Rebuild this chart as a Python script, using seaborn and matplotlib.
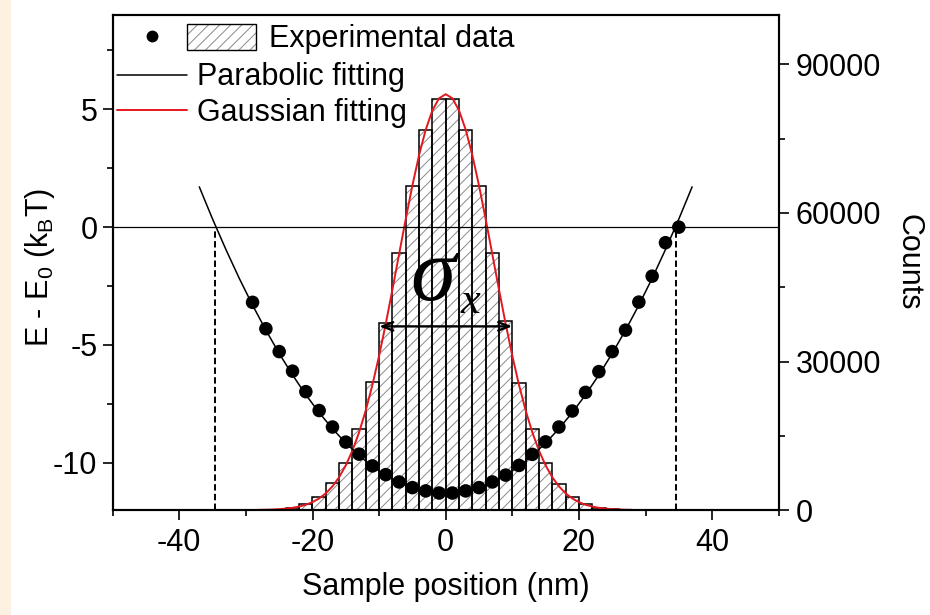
import numpy as np
import matplotlib
matplotlib.use("Agg")
from matplotlib import pyplot as plt
from matplotlib.lines import Line2D
from matplotlib.patches import Patch, Rectangle
from matplotlib.legend_handler import HandlerTuple
from matplotlib.ticker import MultipleLocator
import seaborn as sns

# histogram of positions (2 nm bins)
bin_edges = [-26, -24, -22, -20, -18, -16, -14, -12, -10, -8, -6, -4, -2, 0,
             2, 4, 6, 8, 10, 12, 14, 16, 18, 20, 22, 24, 26]
bin_centers = [-25, -23, -21, -19, -17, -15, -13, -11, -9, -7, -5, -3, -1,
               1, 3, 5, 7, 9, 11, 13, 15, 17, 19, 21, 23, 25]
counts = [100, 400, 1200, 2700, 5400, 9500, 16400, 25800, 37800, 52000, 65500, 76700, 83100,
          83100, 76700, 65500, 52000, 38200, 25600, 16400, 9500, 5300, 2700, 1300, 450, 120]

# energy from the experimental data
pos_points = [-29, -27, -25, -23, -21, -19, -17, -15, -13, -11, -9, -7, -5, -3, -1,
              1, 3, 5, 7, 9, 11, 13, 15, 17, 19, 21, 23, 25, 27, 29, 31, 33, 35]
energy_points = [-3.19, -4.31, -5.28, -6.11, -6.98, -7.78, -8.48, -9.12, -9.63, -10.13,
                 -10.50, -10.81, -11.05, -11.19, -11.28, -11.28, -11.19, -11.05, -10.81,
                 -10.52, -10.11, -9.64, -9.11, -8.48, -7.80, -7.01, -6.13, -5.28, -4.37,
                 -3.18, -2.08, -0.66, 0.0]

# parabolic fitting curve
parab_x = [-37, -35, -33, -31, -29, -27, -25, -23, -21, -19, -17, -15, -13, -11, -9, -7, -5, -3, -1,
           1, 3, 5, 7, 9, 11, 13, 15, 17, 19, 21, 23, 25, 27, 29, 31, 33, 35, 37]
parab_y = [1.71, 0.34, -0.95, -2.17, -3.31, -4.37, -5.36, -6.27, -7.11, -7.87, -8.55, -9.16,
           -9.69, -10.15, -10.53, -10.83, -11.06, -11.21, -11.29,
           -11.29, -11.21, -11.06, -10.83, -10.53, -10.15, -9.69, -9.16, -8.55, -7.87,
           -7.11, -6.27, -5.36, -4.37, -3.31, -2.17, -0.95, 0.34, 1.71]

# gaussian fitting curve (1 nm steps)
gauss_x = np.arange(-28, 29)
gauss_y = [35, 61, 103, 171, 277, 442, 691, 1058, 1589, 2340, 3377, 4780, 6628, 9015,
           12020, 15710, 20140, 25290, 31160, 37620, 44530, 51670, 58780, 65560, 71680,
           76830, 80730, 83170, 84000, 83170, 80730, 76830, 71680, 65560, 58780, 51670,
           44530, 37620, 31160, 25290, 20140, 15710, 12020, 9015, 6628, 4780, 3377, 2340,
           1589, 1058, 691, 442, 277, 171, 103, 61, 35]

crossings = [-34.6, 34.6]
sigma_span = [-10, 10]
sigma_level = -4.21

sns.set_theme(style="ticks")
plt.rcParams["font.family"] = ["Liberation Sans", "DejaVu Sans"]
plt.rcParams["mathtext.fontset"] = "custom"
plt.rcParams["mathtext.rm"] = "Liberation Sans"
plt.rcParams["mathtext.default"] = "regular"
plt.rcParams["axes.unicode_minus"] = False
for k in ["text.color", "axes.labelcolor", "xtick.color", "ytick.color", "axes.edgecolor"]:
    plt.rcParams[k] = "black"
plt.rcParams["hatch.linewidth"] = 0.7

FS = 22
hatch_gray = "#8a8a8a"

fig = plt.figure(figsize=(9.3, 6.15), dpi=100)
fig.patches.append(Rectangle((0, 0), 11 / 930, 1, transform=fig.transFigure,
                             facecolor="#fdf2e1", edgecolor="none", zorder=-5))
ax = fig.add_axes([112.7 / 930, 1 - 510 / 615, 666 / 930, 495 / 615])
ax2 = ax.twinx()

# right axis: histogram + gaussian
sns.histplot(x=bin_centers, weights=counts, bins=bin_edges, ax=ax2, color="white",
             edgecolor=hatch_gray, hatch="///", linewidth=0, alpha=1)
sns.histplot(x=bin_centers, weights=counts, bins=bin_edges, ax=ax2, fill=False,
             color="black", linewidth=1.1)
sns.lineplot(x=gauss_x, y=gauss_y, ax=ax2, color="#e3171d", linewidth=1.4)

# left axis: energy
ax.axhline(0, color="black", linewidth=0.9)
ax.vlines(crossings, -12, 0, colors="black", linewidth=1.4, linestyles=(0, (3.3, 1.7)))
sns.lineplot(x=parab_x, y=parab_y, ax=ax, color="black", linewidth=1.1, sort=False)
sns.scatterplot(x=pos_points, y=energy_points, ax=ax, color="black", s=95,
                edgecolor="none", zorder=5)

ax.annotate("", xy=(sigma_span[0], sigma_level), xytext=(sigma_span[1], sigma_level),
            arrowprops=dict(arrowstyle="<->,head_length=0.65,head_width=0.25",
                            color="black", lw=1.7, shrinkA=0, shrinkB=0), zorder=6)
ax.text(-2.0, -3.1, "\u03c3", fontsize=66, family="Liberation Serif", style="italic",
        ha="center", va="baseline", zorder=6)
ax.text(3.7, -3.65, "x", fontsize=32, family="Liberation Serif", style="italic",
        ha="center", va="baseline", zorder=6)

ax.set_zorder(ax2.get_zorder() + 1)
ax.patch.set_visible(False)

ax.set_xlim(-50, 50)
ax.set_ylim(-12, 9)
ax2.set_ylim(0, 100000)
ax.xaxis.set_major_locator(MultipleLocator(20))
ax.xaxis.set_minor_locator(MultipleLocator(10))
ax.yaxis.set_major_locator(MultipleLocator(5))
ax.yaxis.set_minor_locator(MultipleLocator(2.5))
ax2.yaxis.set_major_locator(MultipleLocator(30000))
ax2.yaxis.set_minor_locator(MultipleLocator(15000))

ax.tick_params(which="major", direction="out", length=7, width=1.2, labelsize=FS)
ax.tick_params(which="minor", direction="out", length=4.5, width=1.2)
ax.tick_params(axis="x", which="major", pad=6)
ax.tick_params(axis="y", which="major", pad=4)
ax.tick_params(top=False, right=False, which="both")
ax2.tick_params(which="major", direction="out", length=7, width=1.2, labelsize=FS, pad=5)
ax2.tick_params(which="minor", direction="out", length=4.5, width=1.2)
for a in (ax, ax2):
    for s in a.spines.values():
        s.set_linewidth(1.5)
        s.set_visible(True)

ax.set_xlabel("Sample position (nm)", fontsize=FS, labelpad=10)
ax.set_ylabel(r"E - E$_0$ (k$_B$T)", fontsize=FS)
ax.yaxis.set_label_coords(-0.084, 0.49)
ax2.set_ylabel("Counts", fontsize=FS, rotation=270, va="bottom", labelpad=9)

# legend
dot_h = Line2D([], [], ls="none", marker="o", ms=7.5, color="black")
hatch_h = Patch(facecolor="white", edgecolor=hatch_gray, hatch="///", linewidth=0)
box_h = Patch(facecolor="none", edgecolor="black", linewidth=1.0)
inner = (hatch_h, box_h)
outer = (dot_h, inner)
leg1 = ax.legend([outer], ["Experimental data"],
                 handler_map={outer: HandlerTuple(ndivide=None, pad=0.04),
                              inner: HandlerTuple(ndivide=1, pad=0)},
                 loc="center left", bbox_to_anchor=((118 - 112.7) / 666, (510 - 39) / 495),
                 frameon=False, fontsize=FS, handlelength=4.5, handleheight=0.92,
                 handletextpad=0.45, borderpad=0, borderaxespad=0)
ax.add_artist(leg1)
fit_handles = [Line2D([], [], color="black", lw=1.1), Line2D([], [], color="#e3171d", lw=1.4)]
ax.legend(fit_handles, ["Parabolic fitting", "Gaussian fitting"],
          loc="center left", bbox_to_anchor=((117 - 112.7) / 666, (510 - 95) / 495),
          frameon=False, fontsize=FS, handlelength=2.3, handletextpad=0.33,
          labelspacing=0.18, borderpad=0, borderaxespad=0)

fig.savefig("out.png", dpi=100)
